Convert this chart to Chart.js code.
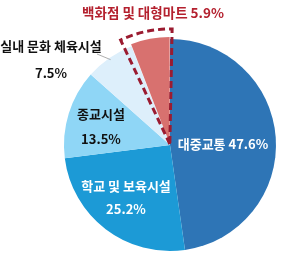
<!DOCTYPE html>
<html>
<head>
<meta charset="utf-8">
<script src="https://cdn.jsdelivr.net/npm/chart.js@4/dist/chart.umd.min.js"></script>
<style>
  html, body { margin: 0; padding: 0; background: #fff; overflow: hidden; }
  canvas { display: block; }
</style>
</head>
<body>
<canvas id="pieChart" width="287" height="256"></canvas>
<script>
// data
const categories = ['대중교통', '학교 및 보육시설', '종교시설', '실내 문화 체육시설', '백화점 및 대형마트'];
const shares = [47.6, 25.2, 13.5, 7.5, 5.9];
const sliceColors = ['#2E75B6', '#1C9AD6', '#8FD6F6', '#DDEFFB', '#D8716F'];

const font = '"Noto Sans CJK KR", "Noto Sans", sans-serif';

// label placement relative to pie centre (lines of text, colour)
const labelSpots = [
  { dx: 53, dy: -1, lines: [categories[0] + ' ' + shares[0] + '%'], color: '#fff' },
  { dx: -44, dy: 41, gap: 23, lines: [categories[1], shares[1] + '%'], color: '#fff' },
  { dx: -69, dy: -31, gap: 25, lines: [categories[2], shares[2] + '%'], color: '#111' },
  { dx: -119, dy: -99, gap: 27, lines: [categories[3], shares[3] + '%'], color: '#111' }
];

const labelPlugin = {
  id: 'labels',
  afterDatasetsDraw(chart) {
    const ctx = chart.ctx;
    const arcs = chart.getDatasetMeta(0).data;
    const cx = arcs[0].x, cy = arcs[0].y;

    // dashed outline round the pulled-out slice
    const hl = arcs[4];
    const mid = (hl.startAngle + hl.endAngle) / 2;
    const ox = hl.x + Math.cos(mid) * 1, oy = hl.y + Math.sin(mid) * 1;
    ctx.save();
    ctx.strokeStyle = '#9B1B30';
    ctx.lineWidth = 3;
    ctx.setLineDash([7, 4]);
    ctx.beginPath();
    ctx.moveTo(ox, oy);
    ctx.arc(ox, oy, hl.outerRadius + 9, hl.startAngle - 0.07, hl.endAngle + 0.02);
    ctx.closePath();
    ctx.stroke();
    ctx.restore();

    // leader line for the small slice
    const s = arcs[3];
    const a = (s.startAngle + s.endAngle) / 2;
    ctx.save();
    ctx.strokeStyle = '#999';
    ctx.lineWidth = 0.8;
    ctx.beginPath();
    ctx.moveTo(cx + Math.cos(a) * (s.outerRadius - 2), cy + Math.sin(a) * (s.outerRadius - 2));
    ctx.lineTo(cx - 73, cy - 91);
    ctx.stroke();
    ctx.restore();

    ctx.save();
    ctx.font = 'bold 13px ' + font;
    ctx.textAlign = 'center';
    ctx.textBaseline = 'middle';
    labelSpots.forEach(l => {
      ctx.fillStyle = l.color;
      l.lines.forEach((t, i) => {
        ctx.fillText(t, cx + l.dx, cy + l.dy + i * (l.gap || 0));
      });
    });
    // title-like label for the highlighted slice
    ctx.font = 'bold 13.5px ' + font;
    ctx.fillStyle = '#B4202E';
    ctx.fillText(categories[4] + ' ' + shares[4] + '%', cx - 17, cy - 132);
    ctx.restore();
  }
};

new Chart(document.getElementById('pieChart'), {
  type: 'pie',
  data: {
    labels: categories,
    datasets: [{
      data: shares,
      backgroundColor: sliceColors,
      borderWidth: 0,
      offset: [0, 0, 0, 0, 5],
      radius: 106
    }]
  },
  options: {
    responsive: false,
    animation: false,
    layout: { padding: { left: 60, right: 7, top: 35, bottom: 1 } },
    plugins: {
      legend: { display: false },
      tooltip: { enabled: false }
    }
  },
  plugins: [labelPlugin]
});
</script>
</body>
</html>
